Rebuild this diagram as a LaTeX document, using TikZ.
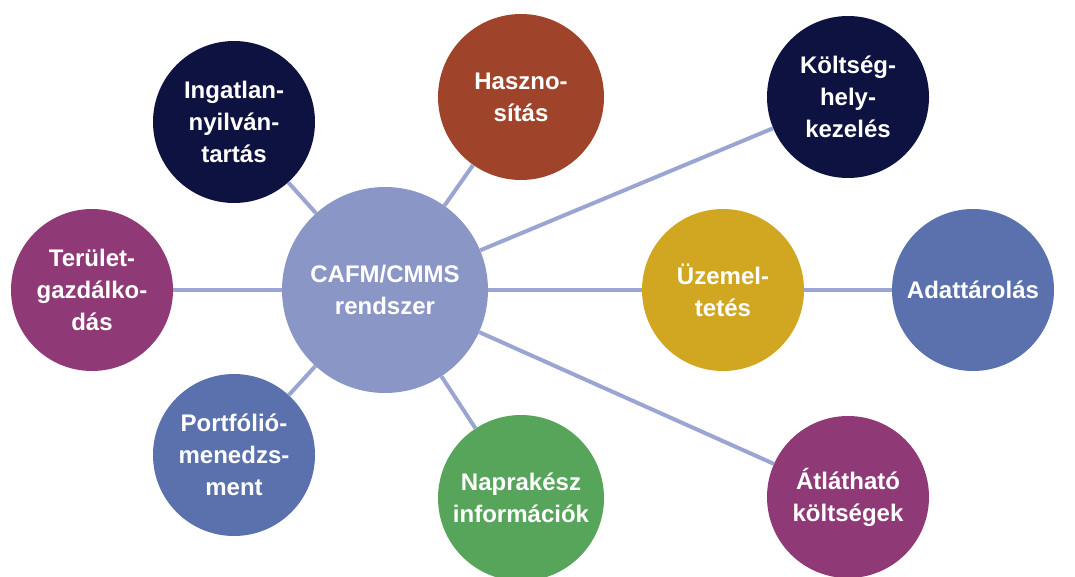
\documentclass[tikz,border=0pt]{standalone}
\usepackage{fontspec}
\setmainfont{Liberation Sans}

\definecolor{navyc}{HTML}{0E1240}
\definecolor{rustc}{HTML}{A0432B}
\definecolor{plumc}{HTML}{8F3A76}
\definecolor{bluec}{HTML}{5B71AD}
\definecolor{hubc}{HTML}{8A96C5}
\definecolor{greenc}{HTML}{56A55A}
\definecolor{goldc}{HTML}{D1A722}
\definecolor{linkc}{HTML}{9BA5D2}

\begin{document}
\begin{tikzpicture}[x=1pt,y=-1pt,
    bubble/.style={circle,fill=#1,text=white,minimum size=162pt,inner sep=0pt,
        align=center,font=\bfseries\fontsize{24}{32}\selectfont},
    link/.style={draw=linkc,line width=4pt}]
    \useasboundingbox (0,0) rectangle (1075,576);

    \node[bubble=hubc,minimum size=206pt](cafm) at (385,290){CAFM/CMMS\\rendszer};

    \node[bubble=navyc](ingatlan) at (234,122){Ingatlan-\\nyilván-\\tartás};
    \node[bubble=rustc,minimum size=166pt](hasznositas) at (521,97){Haszno-\\sítás};
    \node[bubble=navyc](koltseghely) at (848,97){Költség-\\hely-\\kezelés};
    \node[bubble=plumc](terulet) at (92,290){Terület-\\gazdálko-\\dás};
    \node[bubble=goldc](uzemeltetes) at (723,290){Üzemel-\\tetés};
    \node[bubble=bluec](adattarolas) at (973,290){Adattárolás};
    \node[bubble=bluec](portfolio) at (234,455){Portfólió-\\menedzs-\\ment};
    \node[bubble=greenc,minimum size=166pt](naprakesz) at (521,498){Naprakész\\információk};
    \node[bubble=plumc](atlathato) at (848,497){Átlátható\\költségek};

    \draw[link](cafm)--(ingatlan);
    \draw[link](cafm)--(hasznositas);
    \draw[link](cafm)--(koltseghely);
    \draw[link](cafm)--(terulet);
    \draw[link](cafm)--(uzemeltetes);
    \draw[link](cafm)--(portfolio);
    \draw[link](cafm)--(naprakesz);
    \draw[link](cafm)--(atlathato);
    \draw[link](uzemeltetes)--(adattarolas);
\end{tikzpicture}
\end{document}
